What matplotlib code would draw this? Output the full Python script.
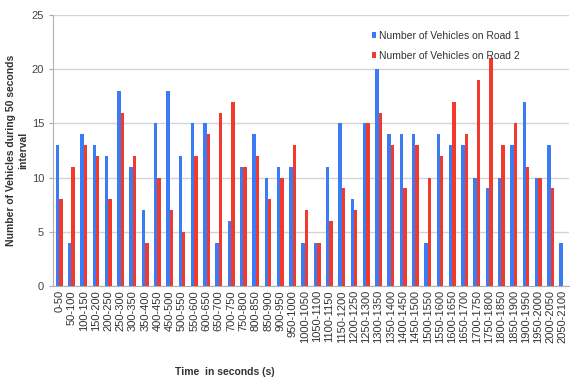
import numpy as np
import matplotlib.pyplot as plt

plt.rcParams['font.family'] = ['Liberation Sans', 'DejaVu Sans']

intervals = [f"{s}-{s + 50}" for s in range(0, 2100, 50)]
road1 = [13, 4, 14, 13, 12, 18, 11, 7, 15, 18, 12, 15, 15, 4, 6, 11, 14, 10, 11, 11, 4,
         4, 11, 15, 8, 15, 20, 14, 14, 14, 4, 14, 13, 13, 10, 9, 10, 13, 17, 10, 13, 4]
road2 = [8, 11, 13, 12, 8, 16, 12, 4, 10, 7, 5, 12, 14, 16, 17, 11, 12, 8, 10, 13, 7,
         4, 6, 9, 7, 15, 16, 13, 9, 13, 10, 12, 17, 14, 19, 21, 13, 15, 11, 10, 9, 0]

fig = plt.figure(figsize=(5.71, 3.81), dpi=100)
ax = fig.add_axes([53 / 571, 1 - 286 / 381, 516 / 571, 271 / 381])

x = np.arange(len(intervals))
w = 0.28
ax.bar(x - w / 2, road1, width=w, color="#3b7cf4", label="Number of Vehicles on Road 1", zorder=3)
ax.bar(x + w / 2, road2, width=w, color="#f23a2c", label="Number of Vehicles on Road 2", zorder=3)

ax.set_xlim(-0.5, len(intervals) - 0.5)
ax.set_ylim(0, 25)
ax.set_yticks(range(0, 26, 5))
ax.yaxis.grid(True, color="#d4d4d4", linewidth=1, zorder=0)
ax.set_xticks(x)
ax.set_xticklabels(intervals, rotation=90, fontsize=8, color="#333333")
ax.tick_params(axis="y", labelsize=8, labelcolor="#444444", color="#aaaaaa", length=3)
ax.tick_params(axis="x", length=0, pad=3)
for side in ["top", "right"]:
    ax.spines[side].set_visible(False)
for side in ["left", "bottom"]:
    ax.spines[side].set_color("#b0b0b0")

ax.legend(loc="upper left", bbox_to_anchor=(0.6, 0.975), frameon=False, fontsize=7.5,
          handlelength=0.4, handleheight=0.5, handletextpad=0.3, labelspacing=0.9,
          labelcolor="#333333")

fig.text(0.03, 1 - 150 / 381, "Number of Vehicles during 50 seconds\ninterval", rotation=90,
         ha="center", va="center", fontsize=7.5, fontweight="bold", color="#333333")
fig.text(225 / 571, 1 - 372 / 381, "Time  in seconds (s)", ha="center", va="center",
         fontsize=7.5, fontweight="bold", color="#333333")

fig.savefig("out.png", dpi=100)
